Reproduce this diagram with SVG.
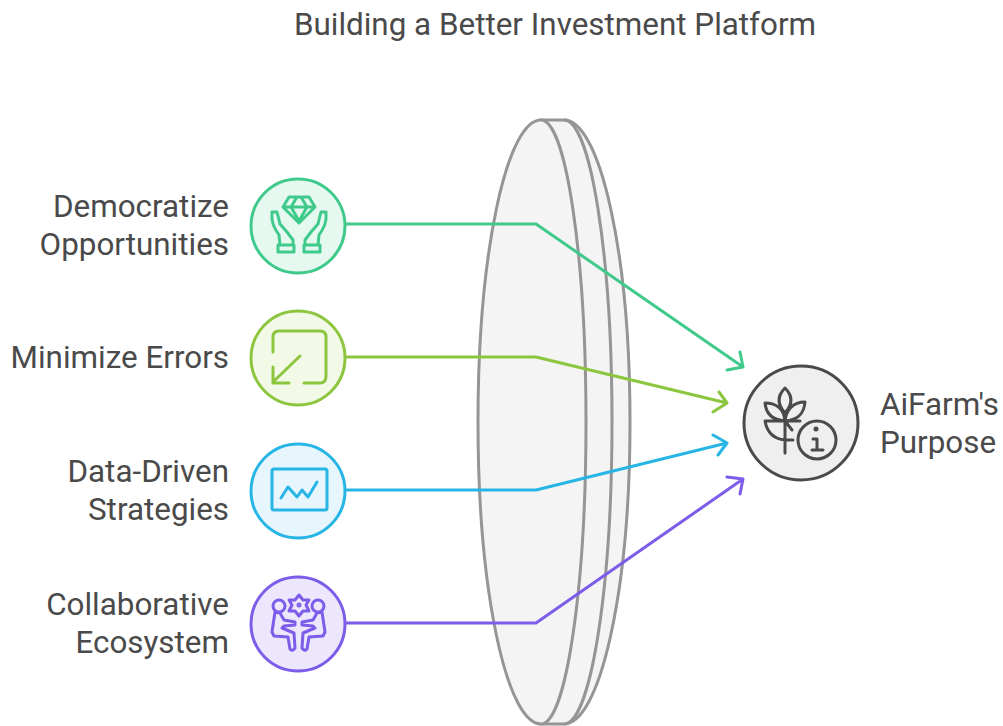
<svg xmlns="http://www.w3.org/2000/svg" width="1003" height="726" viewBox="0 0 1003 726">
<style>
text{font-family:"Roboto","Liberation Sans",sans-serif;font-size:31.4px;fill:#4a4a4a}
.lens{fill:#f4f4f4;stroke:#959595;stroke-width:3}
.c{fill:none;stroke-width:3;stroke-linejoin:round;stroke-linecap:round}
.n{stroke-width:3}
.i{fill:none;stroke-width:3;stroke-linecap:round;stroke-linejoin:round}
.r{text-anchor:end}
</style>
<rect width="1003" height="726" fill="#fff"/>
<text x="555" y="35" text-anchor="middle">Building a Better Investment Platform</text>
<g id="lens">
<path class="lens" d="M541 120H564A66 302 0 0 1 564 724H541Z"/>
<path class="lens" style="fill:none" d="M564 120A48 302 0 0 1 564 724"/>
<path class="lens" d="M541 120A63 302 0 0 0 541 724A45 302 0 0 0 541 120Z"/>
</g>
<g id="connectors" class="c">
<path stroke="#3fca8c" d="M347 224H536L743 367M727 370L743 367L740 352"/>
<path stroke="#8cc63f" d="M347 357H536L727 403M713 412L727 403L719 392"/>
<path stroke="#27b5e5" d="M347 490H536L727 443M713 435L727 443L718 455"/>
<path stroke="#7c5ce8" d="M347 623H536L743 479M727 477L743 479L740 494"/>
</g>
<g id="democratize">
<circle class="n" cx="298" cy="226" r="47" fill="#e6f9f1" stroke="#3fca8c"/>
<g class="i" stroke="#3fca8c"><path d="M289 197H309L315 207L299 223L283 207ZM283 207H315M291 207L299 221L307 207L301 197M291 207L297 197"/><path d="M272 212L277 212L280 224L287 232L293 240V245H280L279 235C274 228 271 222 272 212ZM326 212L321 212L318 224L311 232L305 240V245H318L319 235C324 228 327 222 326 212ZM278 245H294V252H278ZM304 245H320V252H304Z"/></g>
<text class="r" x="229" y="217">Democratize</text><text class="r" x="229" y="255">Opportunities</text>
</g>
<g id="minimize">
<circle class="n" cx="298" cy="358" r="47" fill="#f2f9e6" stroke="#8cc63f"/>
<g class="i" stroke="#8cc63f"><path d="M273 352V337Q273 331 279 331H320Q326 331 326 337V376Q326 383 320 383H304M300 356L273 382M273 367V383H289"/></g>
<text class="r" x="229" y="368">Minimize Errors</text>
</g>
<g id="data">
<circle class="n" cx="298" cy="491" r="47" fill="#e6f6fc" stroke="#27b5e5"/>
<g class="i" stroke="#27b5e5"><rect x="272" y="469" width="55" height="41" rx="2"/><path d="M281 498L288 487L297 497L302 490L308 497L317 482"/></g>
<text class="r" x="229" y="482">Data-Driven</text><text class="r" x="229" y="520">Strategies</text>
</g>
<g id="collaborative">
<circle class="n" cx="298" cy="624" r="47" fill="#ece7fd" stroke="#7c5ce8"/>
<g class="i" stroke="#7c5ce8"><circle cx="279" cy="606" r="6"/><circle cx="318" cy="606" r="6"/><path d="M299 595L303 600H309L306 605L309 611H303L299 616L295 611H289L292 605L289 600H295Z"/><circle cx="299" cy="605" r="1"/><path d="M275 612L272 632L274 636L288 637L290 649Q292 652 295 648L294 633L282 628L284 626L295 625V622L284 620L280 613ZM322 612L325 632L323 636L309 637L307 649Q305 652 302 648L303 633L315 628L313 626L302 625V622L313 620L317 613Z"/></g>
<text class="r" x="229" y="615">Collaborative</text><text class="r" x="229" y="653">Ecosystem</text>
</g>
<g id="purpose">
<circle cx="801" cy="423" r="57" fill="#efefef" stroke="#4a4a4a" stroke-width="3"/>
<g class="i" stroke="#4a4a4a"><path d="M785 453V412M785 388C778 395 776 403 785 413C794 403 792 395 785 388ZM765 403C766 414 772 420 785 421C784 410 777 403 765 403ZM805 402C804 414 798 420 785 421C786 410 793 402 805 402ZM765 421H800M765 421C767 432 774 439 785 440M785 440H793M785 421L792 430"/><circle cx="817" cy="440" r="19"/><path d="M813 439H817V449M812 450H823"/></g><circle cx="816" cy="429" r="2.5" fill="#4a4a4a"/>
<text x="880" y="415">AiFarm's</text><text x="880" y="453">Purpose</text>
</g>
</svg>
